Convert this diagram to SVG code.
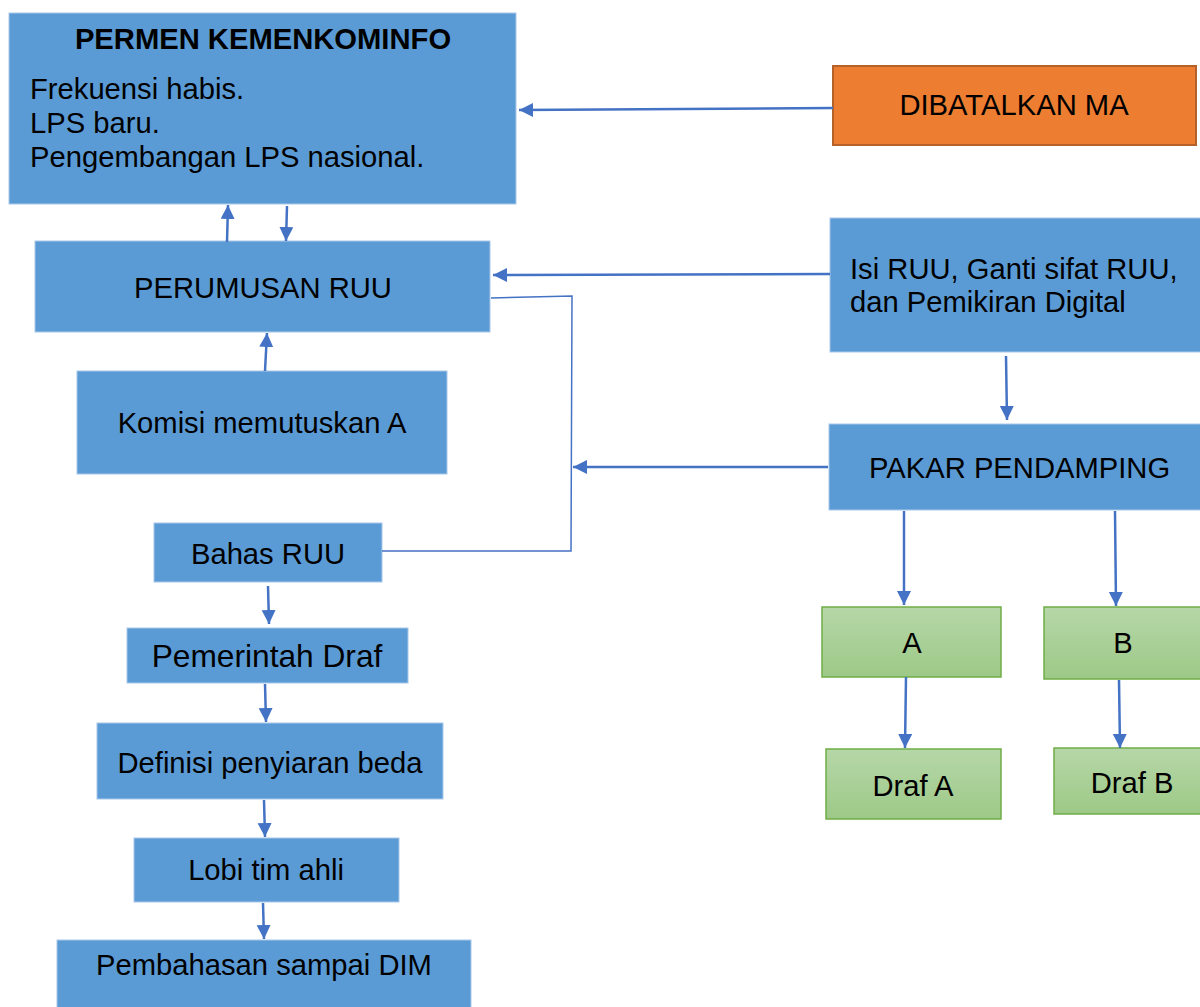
<svg xmlns="http://www.w3.org/2000/svg" width="1200" height="1007" viewBox="0 0 1200 1007">
<style>
.blue{fill:#5B9BD5;stroke:#A9C8EA;stroke-width:1}
.green{fill:url(#g);stroke:#70AD47;stroke-width:1.5}
.orange{fill:#ED7D31;stroke:#B4622A;stroke-width:2}
text{font-family:"Liberation Sans",Arial,sans-serif;fill:#000;font-size:29.2px}
.c{text-anchor:middle}
.b{font-weight:bold}
.arr{stroke:#4472C4;stroke-width:2.5;fill:none;marker-end:url(#ah)}
.ln{stroke:#4472C4;stroke-width:1.5;fill:none}
</style>
<defs>
<linearGradient id="g" x1="0" y1="0" x2="0" y2="1">
<stop offset="0" stop-color="#B6D7A8"/>
<stop offset="1" stop-color="#9DC987"/>
</linearGradient>
<marker id="ah" markerUnits="userSpaceOnUse" markerWidth="15" markerHeight="15" refX="14" refY="7" orient="auto">
<path d="M0,0 L14,7 L0,14 z" fill="#4472C4"/>
</marker>
</defs>
<rect width="1200" height="1007" fill="#fff"/>
<g id="permen">
<rect class="blue" x="9" y="13" width="507" height="191"/>
<text class="b c" x="263" y="49">PERMEN KEMENKOMINFO</text>
<text x="30" y="99">Frekuensi habis.</text>
<text x="30" y="133">LPS baru.</text>
<text x="30" y="167">Pengembangan LPS nasional.</text>
</g>
<g id="perumusan">
<rect class="blue" x="35" y="241" width="455" height="91"/>
<text class="c" x="263" y="298">PERUMUSAN RUU</text>
</g>
<g id="komisi">
<rect class="blue" x="77" y="371" width="370" height="103"/>
<text class="c" x="262" y="433">Komisi memutuskan A</text>
</g>
<g id="bahas">
<rect class="blue" x="154" y="523" width="228" height="59"/>
<text class="c" x="268" y="564">Bahas RUU</text>
</g>
<g id="pemerintah">
<rect class="blue" x="127" y="628" width="281" height="55"/>
<text class="c" x="267" y="667" style="font-size:31.7px">Pemerintah Draf</text>
</g>
<g id="definisi">
<rect class="blue" x="97" y="723" width="346" height="76"/>
<text class="c" x="270" y="773">Definisi penyiaran beda</text>
</g>
<g id="lobi">
<rect class="blue" x="134" y="838" width="265" height="64"/>
<text class="c" x="266" y="880">Lobi tim ahli</text>
</g>
<g id="pembahasan">
<rect class="blue" x="57" y="940" width="414" height="70"/>
<text class="c" x="264" y="975">Pembahasan sampai DIM</text>
</g>
<g id="dibatalkan">
<rect class="orange" x="833" y="66" width="363" height="79"/>
<text class="c" x="1014" y="115">DIBATALKAN MA</text>
</g>
<g id="isi">
<rect class="blue" x="830" y="218" width="372" height="134"/>
<text x="850" y="279">Isi RUU, Ganti sifat RUU,</text>
<text x="850" y="312">dan Pemikiran Digital</text>
</g>
<g id="pakar">
<rect class="blue" x="829" y="424" width="373" height="86"/>
<text x="869" y="478">PAKAR PENDAMPING</text>
</g>
<g id="a">
<rect class="green" x="822" y="607" width="179" height="70"/>
<text class="c" x="912" y="653">A</text>
</g>
<g id="b">
<rect class="green" x="1044" y="607" width="160" height="72"/>
<text class="c" x="1123" y="653">B</text>
</g>
<g id="drafa">
<rect class="green" x="826" y="749" width="175" height="70"/>
<text class="c" x="913" y="796">Draf A</text>
</g>
<g id="drafb">
<rect class="green" x="1054" y="748" width="150" height="66"/>
<text class="c" x="1132" y="793">Draf B</text>
</g>
<g id="connectors">
<path class="arr" d="M227,242 L228,205"/>
<path class="arr" d="M287,206 L286,241"/>
<path class="arr" d="M265,371 L267,333"/>
<path class="arr" d="M833,108 L519,110"/>
<path class="arr" d="M830,274 L493,275"/>
<path class="arr" d="M828,467 L573,467"/>
<path class="arr" d="M1006,356 L1007,420"/>
<path class="arr" d="M904,511 L904,605"/>
<path class="arr" d="M1115,511 L1116,606"/>
<path class="arr" d="M906,677 L905,748"/>
<path class="arr" d="M1119,680 L1120,748"/>
<path class="arr" d="M268,586 L269,624"/>
<path class="arr" d="M265,684 L266,722"/>
<path class="arr" d="M264,800 L265,837"/>
<path class="arr" d="M263,903 L264,939"/>
<path class="ln" d="M491,298 L572,296 L571,551 L382,551"/>
</g>
</svg>
